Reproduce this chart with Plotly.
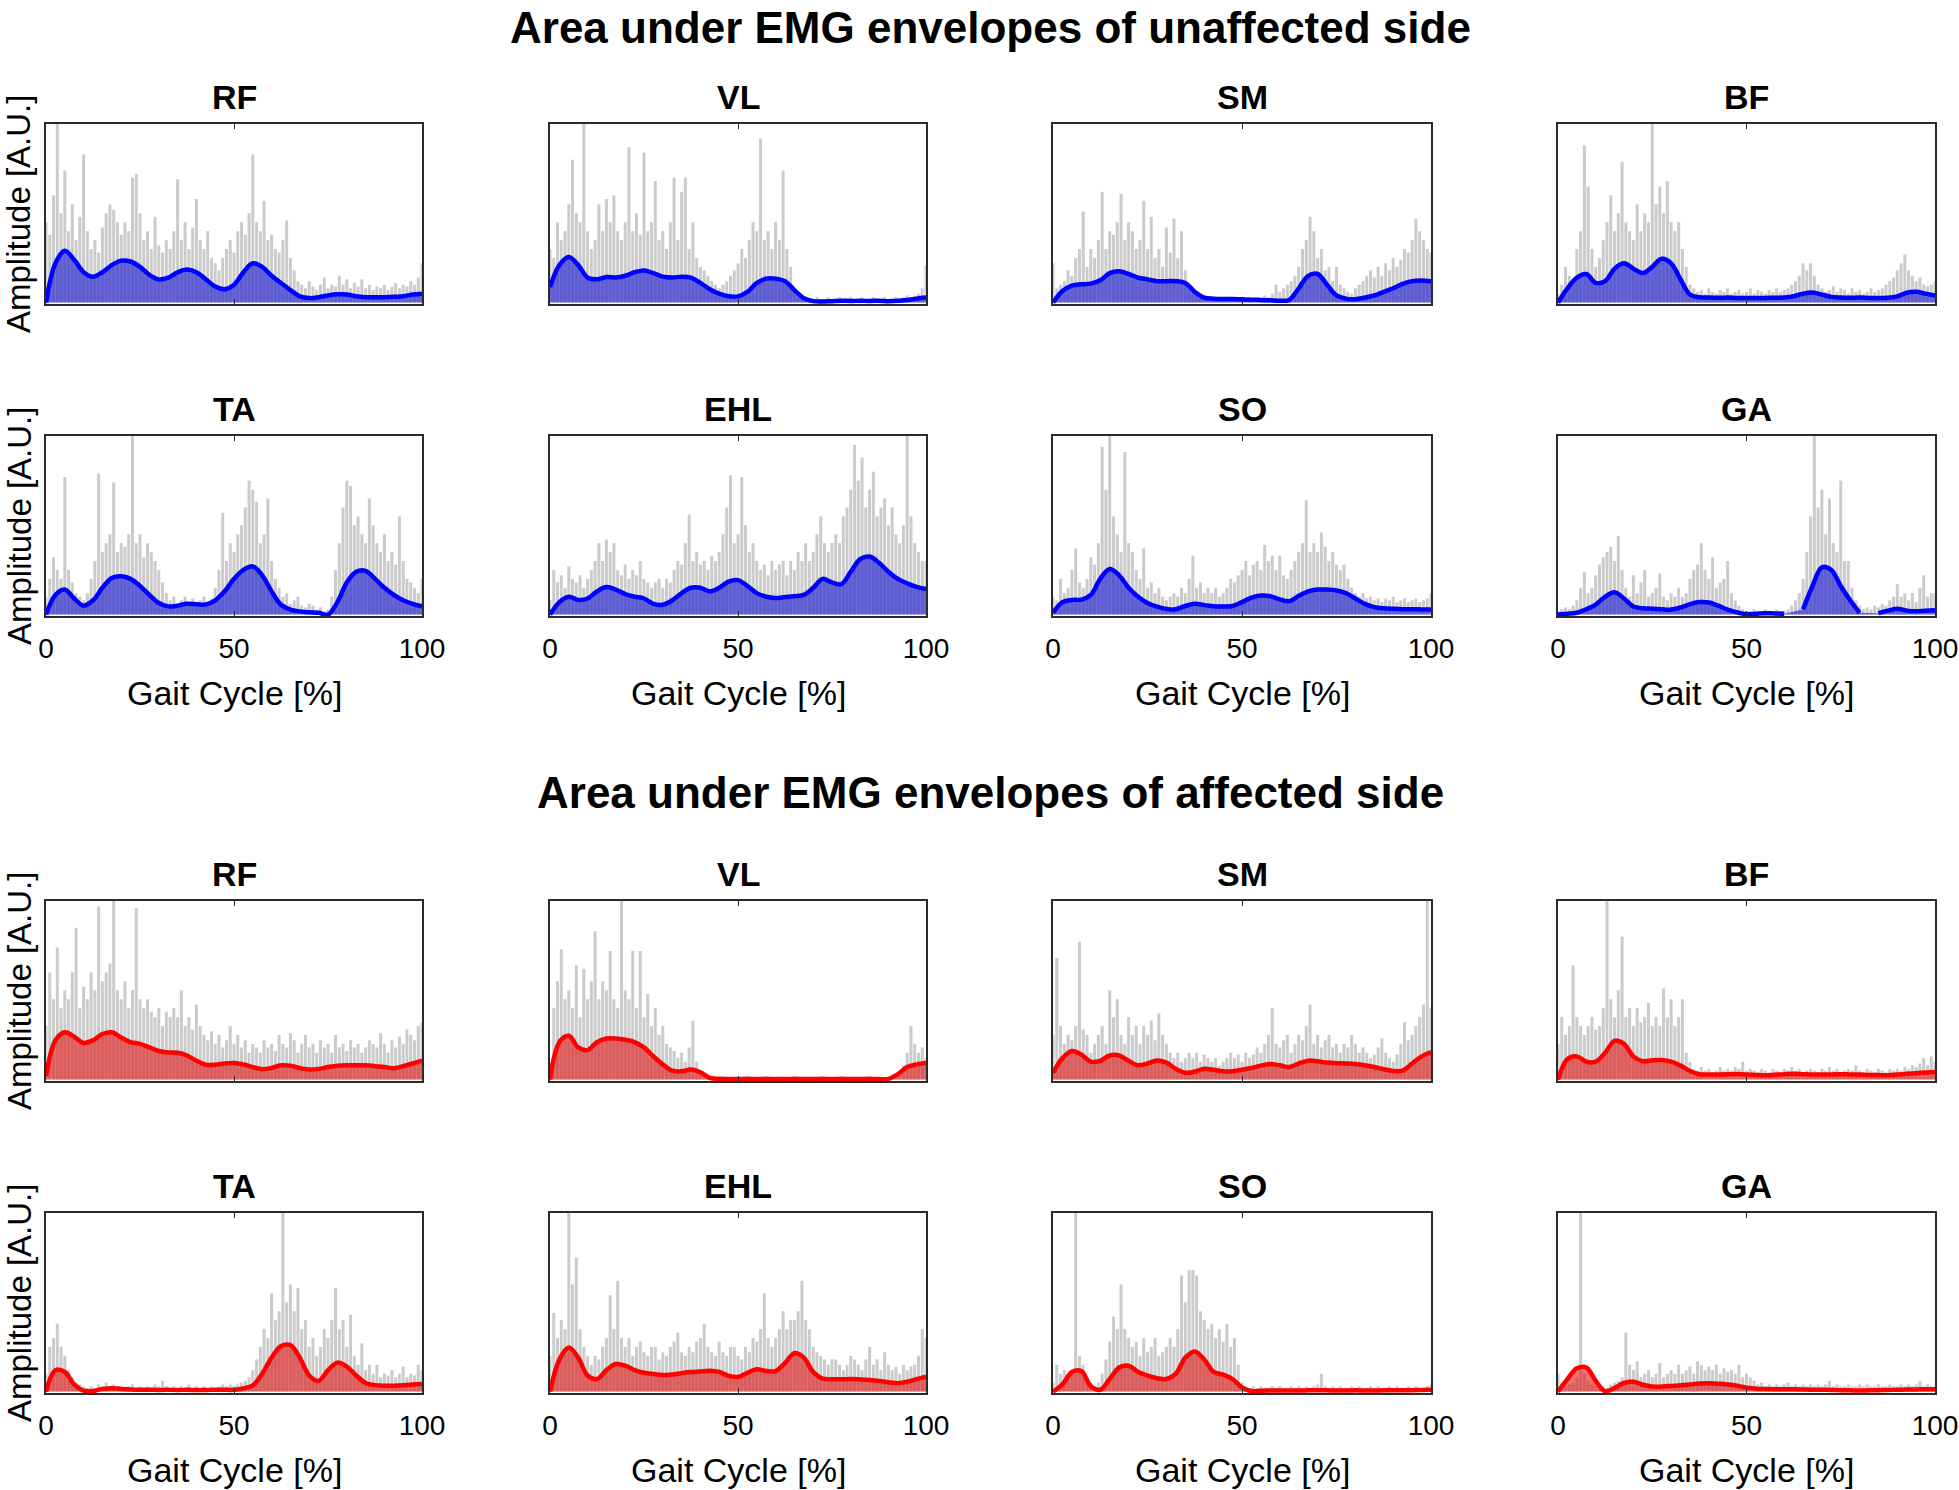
import plotly.graph_objects as go

# muscles in panel order (two rows of four per side)
muscles = ['RF', 'VL', 'SM', 'BF', 'TA', 'EHL', 'SO', 'GA']
section_titles = ['Area under EMG envelopes of unaffected side',
                  'Area under EMG envelopes of affected side']
x_ticks = [0, 50, 100]

# envelope sampled every 2.5 % of gait cycle, raw EMG peaks every 1 %
env_x = [i * 2.5 for i in range(41)]
raw_x = list(range(101))

# ---- unaffected side (values in % of panel height) ----
u_rf_env = [0, 22, 29, 24, 17, 14.5, 17, 21, 23.5, 23, 20, 15.5, 13, 14, 17, 18.5, 17, 13, 9, 7.5, 10, 17, 22, 20, 15, 11,
            7, 3.5, 2.5, 3, 4, 4.6, 4.5, 3.5, 3, 3, 3, 3.2, 3.5, 4.5, 5]
u_rf_raw = [45, 38, 60, 100, 50, 74, 40, 55, 35, 48, 83, 40, 30, 35, 28, 42, 50, 55, 52, 45, 38, 45, 40, 70, 72, 50, 35,
            40, 30, 48, 32, 28, 35, 30, 40, 69, 35, 45, 30, 42, 58, 35, 30, 40, 25, 22, 18, 25, 30, 35, 28, 40, 45, 38,
            50, 83, 45, 40, 57, 35, 38, 30, 28, 35, 46, 25, 18, 12, 10, 8, 12, 9, 7, 10, 14, 8, 10, 9, 15, 10, 13, 8, 11,
            9, 13, 8, 10, 7, 9, 8, 10, 7, 9, 11, 8, 10, 9, 12, 10, 14, 22]

u_vl_env = [8.7, 21, 25.5, 21, 14, 13, 14.3, 14, 15, 17, 18, 16.5, 14.5, 14, 14.5, 14, 11, 7.5, 5, 3.5, 3.5, 6, 11, 13.4,
            13.4, 12, 7, 2.5, 0.8, 0.6, 0.8, 1, 0.9, 1, 0.9, 1, 0.8, 1, 1.5, 2.2, 2.8]
u_vl_raw = [30, 25, 45, 35, 40, 55, 80, 50, 45, 100, 40, 30, 35, 55, 40, 58, 45, 60, 40, 35, 45, 87, 40, 50, 38, 84, 40,
            45, 68, 35, 40, 30, 45, 70, 35, 62, 70, 30, 45, 25, 20, 18, 15, 12, 10, 8, 10, 12, 15, 18, 22, 30, 25, 35,
            45, 40, 92, 35, 40, 30, 45, 35, 74, 30, 20, 8, 3, 2, 3, 2, 2, 3, 2, 2, 3, 2, 2, 3, 2, 2, 3, 2, 2, 3, 2, 2, 3,
            2, 2, 3, 2, 2, 3, 2, 3, 4, 3, 4, 5, 8, 21]

u_sm_env = [0, 6.5, 9.5, 10.2, 10.6, 12.5, 16.5, 17.5, 16, 14, 13, 12, 12, 12, 11, 6, 2.8, 2.2, 2, 2, 1.8, 1.6, 1.5, 1.3,
            1, 1.5, 8, 15, 16, 10, 4, 2.2, 1.9, 2.8, 4, 6, 8, 10.5, 12, 12.3, 12]
u_sm_raw = [22, 8, 10, 12, 18, 15, 25, 30, 51, 20, 30, 25, 35, 62, 30, 40, 38, 45, 61, 35, 45, 40, 30, 35, 57, 30, 48, 25,
            30, 20, 42, 28, 47, 25, 40, 18, 8, 5, 4, 3, 3, 2, 3, 2, 3, 2, 2, 3, 2, 3, 2, 2, 3, 2, 3, 2, 4, 3, 5, 10, 6, 8,
            10, 12, 15, 20, 30, 35, 48, 40, 25, 30, 18, 20, 12, 20, 10, 8, 6, 5, 8, 10, 12, 15, 18, 14, 20, 15, 22, 18,
            25, 20, 24, 30, 28, 35, 47, 40, 35, 30, 28]

u_bf_env = [0, 8, 14, 16, 11, 12, 19, 22, 19, 16.5, 20, 24.5, 22, 13, 4.5, 3, 2.8, 2.7, 2.8, 2.6, 2.6, 2.5, 2.6, 2.7, 2.8,
            3.5, 5, 5.6, 4.5, 3.2, 2.8, 2.7, 2.8, 2.6, 2.5, 2.7, 3.5, 5.5, 6, 5, 4]
u_bf_raw = [5, 10, 20, 15, 12, 30, 40, 88, 65, 30, 20, 25, 35, 45, 60, 40, 50, 79, 45, 40, 35, 55, 40, 50, 45, 100, 55,
            65, 50, 68, 45, 40, 45, 30, 20, 10, 8, 6, 7, 5, 8, 6, 5, 7, 6, 8, 5, 6, 7, 5, 6, 8, 5, 7, 6, 5, 7, 6, 8, 6, 7,
            8, 10, 12, 15, 22, 18, 22, 15, 10, 8, 6, 7, 9, 6, 8, 7, 5, 8, 6, 7, 5, 6, 8, 6, 7, 8, 10, 12, 14, 18, 22, 27,
            18, 15, 12, 14, 10, 9, 10, 12]

u_ta_env = [0, 11, 14, 9, 5, 8, 15, 20.5, 21.4, 20, 16, 11, 6.5, 4.6, 5, 6, 5.8, 5.6, 8, 13, 20, 25, 27, 22, 13, 5.5, 2.8,
            1.8, 1.3, 1, 0, 7, 18, 24, 24.5, 20, 15, 11, 8, 6, 4.6]
u_ta_raw = [10, 20, 32, 25, 20, 77, 25, 18, 12, 10, 8, 12, 20, 30, 79, 35, 40, 45, 74, 35, 40, 38, 45, 100, 40, 45, 32,
            40, 35, 30, 25, 18, 12, 8, 10, 6, 8, 10, 7, 9, 6, 8, 10, 7, 9, 15, 25, 57, 30, 40, 35, 45, 50, 60, 75, 70,
            63, 40, 45, 65, 30, 20, 15, 10, 12, 6, 8, 10, 5, 4, 6, 5, 3, 4, 2, 3, 10, 25, 40, 60, 75, 72, 50, 55, 45, 40,
            65, 50, 40, 35, 45, 30, 35, 28, 55, 30, 20, 18, 15, 12, 20]

u_ehl_env = [0, 7, 10, 8.2, 9, 13, 15.4, 14, 11.5, 10, 9, 6, 5.5, 8, 12, 15, 15, 13, 15, 18.5, 19.3, 16, 12, 10, 9.3, 9.8,
             10.3, 11, 15, 20, 18, 17, 24, 31, 32.5, 29, 24, 20, 17.5, 15.5, 14.3]
u_ehl_raw = [8, 25, 18, 22, 15, 27, 20, 18, 22, 15, 20, 25, 30, 40, 30, 42, 35, 40, 25, 22, 28, 20, 25, 22, 30, 20, 18, 15,
             18, 20, 15, 20, 18, 25, 30, 28, 40, 56, 30, 35, 28, 30, 25, 33, 30, 35, 45, 60, 78, 40, 45, 77, 50, 35, 40,
             30, 25, 28, 22, 30, 25, 28, 30, 22, 30, 25, 35, 30, 40, 30, 35, 45, 55, 40, 35, 40, 45, 40, 55, 60, 70, 95,
             75, 88, 60, 70, 80, 55, 60, 65, 50, 60, 45, 40, 50, 100, 55, 40, 35, 30, 30]

u_so_env = [1, 7, 8.2, 8.4, 11, 20, 25.5, 22, 15, 10, 6.5, 4.5, 3.2, 3, 4.8, 6, 5.3, 4.6, 4.5, 4.8, 7, 9.5, 10.7, 10.3,
            8.5, 7.5, 10.5, 13, 14, 14, 13.5, 12, 9, 6, 4.2, 3.5, 3.2, 3, 3, 2.9, 2.8]
u_so_raw = [10, 8, 20, 12, 15, 25, 37, 18, 15, 20, 32, 28, 40, 94, 70, 100, 55, 45, 35, 91, 40, 35, 25, 20, 37, 15, 18,
            12, 15, 10, 8, 10, 12, 10, 15, 12, 20, 33, 15, 18, 12, 15, 12, 15, 10, 12, 15, 20, 18, 22, 25, 30, 22, 28,
            30, 25, 39, 30, 33, 25, 33, 22, 20, 25, 30, 35, 40, 64, 35, 40, 35, 46, 38, 30, 35, 28, 25, 28, 20, 15, 12,
            10, 12, 9, 10, 8, 9, 7, 9, 8, 10, 7, 8, 9, 7, 8, 9, 7, 8, 9, 12]

u_ga_env = [0, 0.5, 1, 3, 5.6, 10, 12.5, 9, 4.5, 3.5, 3.3, 3, 2.8, 4, 5.8, 7, 6.8, 5, 2.8, 1.2, 0.2, 0.5, 0.8, 0.6, 0.4,
            None, 3, 16, 26.5, 25, 16, 8, 1, None, 0.8, 2.2, 3.2, 2.2, 1.9, 2.2, 2.4]
u_ga_raw = [2, 3, 4, 3, 5, 8, 15, 24, 12, 15, 22, 28, 32, 35, 38, 30, 44, 25, 15, 10, 22, 12, 18, 25, 10, 12, 15, 23, 10,
            8, 12, 10, 15, 10, 12, 20, 25, 28, 40, 25, 20, 32, 15, 18, 20, 30, 12, 8, 5, 3, 2, 2, 3, 2, 2, 3, 2, 2, 3, 2,
            2, 3, 5, 8, 12, 20, 35, 55, 100, 60, 70, 45, 65, 40, 35, 75, 30, 30, 15, 8, 5, 3, 4, 3, 5, 4, 6, 5, 8, 10,
            17, 10, 12, 8, 12, 7, 15, 22, 10, 12, 12]

# ---- affected side ----
a_rf_env = [2, 22, 26.5, 24, 20.5, 22, 25.5, 26.5, 23.5, 21, 20, 18, 16, 15.2, 15, 13.5, 10.5, 8.3, 8.3, 9, 9.3, 8.5, 7,
            5.8, 6.5, 8, 7.8, 6.5, 5.7, 6, 7, 7.8, 8, 8, 8, 7.5, 7, 6.3, 7.5, 9, 10.6]
a_rf_raw = [30, 60, 45, 74, 40, 50, 45, 60, 85, 40, 52, 45, 60, 50, 97, 55, 60, 65, 100, 50, 45, 55, 40, 50, 96, 45, 40,
            45, 38, 35, 40, 30, 38, 35, 40, 35, 50, 30, 35, 28, 42, 30, 25, 22, 27, 20, 25, 18, 22, 30, 20, 25, 18, 22,
            15, 20, 18, 15, 22, 18, 20, 16, 25, 20, 18, 26, 22, 15, 20, 25, 18, 20, 15, 22, 18, 20, 15, 25, 18, 20, 16,
            22, 18, 20, 15, 18, 22, 20, 18, 26, 20, 15, 22, 18, 24, 20, 28, 25, 22, 30, 32]

a_vl_env = [0, 21, 24.5, 18, 16.5, 21, 23, 23, 22.3, 21, 18, 13, 8.5, 5, 4.6, 5.6, 4, 1, 0.4, 0.3, 0.3, 0.4, 0.3, 0.4, 0.3,
            0.3, 0.4, 0.3, 0.3, 0.4, 0.3, 0.4, 0.3, 0.3, 0.4, 0.3, 0.4, 3, 7, 8.5, 9.3]
a_vl_raw = [10, 40, 55, 73, 45, 50, 40, 64, 35, 62, 45, 55, 83, 45, 55, 50, 72, 45, 40, 100, 50, 45, 72, 40, 72, 35, 48,
            30, 40, 25, 30, 20, 18, 16, 12, 15, 10, 18, 33, 10, 5, 3, 2, 1, 1, 1, 1, 1, 1, 1, 1, 1, 1, 1, 1, 1, 1, 1, 1,
            1, 1, 1, 1, 1, 1, 1, 1, 1, 1, 1, 1, 1, 1, 1, 1, 1, 1, 1, 1, 1, 1, 1, 1, 1, 1, 1, 1, 1, 1, 1, 1, 2, 3, 5, 8,
            15, 30, 20, 15, 18, 12]

a_sm_env = [3.7, 12, 16, 14, 10, 10.5, 13.5, 13.5, 10.5, 8, 9, 10.7, 9.5, 6, 3.8, 4.5, 6, 5.5, 4.6, 4.7, 5.5, 6.5, 7.8,
            8.7, 8, 7, 9, 10.6, 10.2, 9.5, 9.2, 9, 8.7, 8, 7, 5.8, 4.8, 5, 9, 13, 15.4]
a_sm_raw = [25, 68, 30, 20, 25, 22, 30, 77, 28, 25, 15, 20, 25, 30, 20, 50, 35, 45, 25, 20, 35, 25, 30, 20, 30, 25, 33,
            22, 37, 25, 20, 15, 12, 15, 10, 12, 15, 12, 15, 10, 14, 12, 10, 12, 8, 10, 12, 15, 12, 14, 10, 15, 12, 14,
            18, 15, 20, 25, 40, 20, 18, 22, 25, 15, 20, 25, 22, 30, 42, 20, 25, 18, 22, 25, 18, 20, 15, 20, 18, 25, 20,
            15, 18, 15, 12, 14, 18, 23, 15, 12, 10, 14, 20, 32, 22, 25, 30, 35, 42, 100, 40]

a_bf_env = [0, 11.5, 13, 10, 10, 15, 21.7, 20, 13, 10.3, 10.8, 10.9, 10, 7.8, 4.8, 3, 2.8, 2.9, 3, 3.1, 2.8, 2.6, 2.4,
            2.7, 3, 3.2, 3, 2.8, 2.8, 2.9, 3, 2.9, 2.8, 2.6, 2.5, 2.4, 2.8, 3.2, 3.6, 4, 4.3]
a_bf_raw = [20, 35, 25, 30, 64, 35, 30, 25, 30, 35, 28, 30, 40, 100, 45, 35, 50, 80, 35, 40, 30, 40, 32, 35, 43, 30, 35,
            30, 51, 35, 45, 30, 35, 45, 15, 10, 6, 5, 7, 5, 6, 4, 5, 7, 5, 6, 5, 7, 6, 10, 5, 6, 5, 4, 6, 5, 4, 6, 5, 4,
            6, 5, 7, 5, 6, 4, 5, 6, 5, 4, 6, 5, 7, 5, 6, 4, 5, 6, 5, 8, 5, 4, 6, 5, 4, 6, 5, 4, 6, 5, 6, 5, 7, 6, 8, 7, 9,
            12, 8, 13, 10]

a_ta_env = [0, 12, 11, 4, 0.5, 0.3, 1.5, 1.9, 1.5, 1.2, 1, 1, 0.9, 1, 0.9, 1, 0.9, 0.9, 1, 1, 1, 1.8, 3.5, 10, 19, 25.5,
            26, 19, 9, 6, 12, 16.2, 14, 9, 4.8, 3.6, 3.3, 3.3, 3.5, 3.9, 4.3]
a_ta_raw = [10, 25, 30, 38, 25, 20, 12, 8, 5, 4, 3, 2, 3, 2, 4, 3, 5, 3, 4, 2, 3, 2, 3, 4, 2, 3, 2, 3, 2, 4, 3, 6, 3, 2,
            3, 2, 3, 2, 4, 2, 3, 2, 3, 2, 3, 2, 3, 4, 3, 4, 3, 4, 5, 6, 8, 12, 18, 25, 35, 30, 55, 40, 45, 100, 50, 60,
            45, 58, 35, 40, 25, 30, 20, 25, 35, 30, 40, 58, 35, 40, 25, 43, 20, 15, 27, 12, 15, 10, 15, 8, 10, 9, 12, 8,
            10, 14, 8, 10, 9, 15, 12]

a_ehl_env = [0, 18, 24.7, 19, 9, 7, 12, 15.4, 14.5, 12, 10.5, 9.8, 9.3, 9.6, 10.3, 10.9, 11.2, 11.7, 11, 8.8, 8.2, 10.5,
             12.5, 11.5, 11.5, 16, 21.5, 19, 11, 7.2, 6.9, 6.9, 7, 6.8, 6.5, 6, 5.2, 4.7, 5.5, 7, 8.4]
a_ehl_raw = [20, 44, 30, 40, 35, 100, 60, 75, 35, 25, 20, 15, 20, 18, 25, 30, 54, 35, 62, 30, 25, 30, 20, 25, 28, 22, 20,
             25, 25, 18, 22, 20, 25, 28, 33, 22, 20, 25, 22, 28, 30, 38, 25, 22, 20, 28, 22, 20, 25, 25, 20, 18, 25, 22,
             30, 28, 35, 55, 30, 25, 30, 35, 45, 35, 40, 40, 45, 62, 40, 35, 25, 22, 20, 18, 15, 18, 18, 15, 12, 15, 20,
             18, 15, 12, 18, 25, 15, 18, 12, 22, 15, 12, 14, 10, 15, 12, 14, 15, 20, 35, 30]

a_so_env = [0, 4, 11, 11.5, 3, 1, 7, 13.5, 14.5, 11, 9, 7.5, 7, 10, 19, 22.5, 18, 11, 9.5, 7, 2.3, 0.3, 0.5, 0.6, 0.6,
            0.6, 0.6, 0.7, 0.8, 0.7, 0.6, 0.6, 0.7, 0.6, 0.6, 0.7, 0.7, 0.8, 0.8, 0.9, 1]
a_so_raw = [5, 15, 10, 12, 8, 10, 100, 20, 15, 8, 5, 3, 5, 10, 18, 28, 42, 35, 60, 35, 30, 25, 28, 20, 30, 22, 25, 30,
            20, 22, 25, 30, 25, 35, 65, 50, 68, 68, 65, 45, 40, 35, 38, 30, 35, 28, 38, 25, 30, 15, 5, 3, 2, 3, 2, 3, 2,
            2, 3, 2, 3, 2, 2, 3, 2, 3, 2, 3, 2, 3, 4, 10, 3, 2, 3, 2, 3, 2, 2, 3, 2, 3, 2, 2, 3, 2, 3, 2, 2, 3, 2, 3, 2,
            2, 3, 2, 3, 2, 2, 3, 4]

a_ga_env = [0, 7, 13, 13.5, 6, 0.2, 2, 4.8, 5.5, 3.8, 2.8, 2.8, 3.1, 3.5, 4, 4.5, 4.6, 4.4, 4, 3.3, 2.2, 1.6, 1.4, 1.3,
            1.3, 1.3, 1.2, 1, 1, 0.9, 0.8, 0.7, 0.6, 0.7, 0.8, 0.9, 1, 1.1, 1.2, 1.3, 1.3]
a_ga_raw = [10, 5, 3, 4, 5, 8, 100, 10, 6, 4, 3, 2, 3, 2, 4, 5, 6, 8, 33, 15, 12, 17, 8, 10, 12, 8, 10, 16, 8, 10, 12,
            10, 15, 10, 12, 14, 10, 17, 15, 12, 14, 12, 15, 10, 13, 11, 12, 10, 15, 8, 10, 8, 6, 4, 5, 3, 4, 3, 4, 3, 4,
            5, 3, 4, 3, 4, 3, 4, 3, 4, 3, 4, 6, 3, 4, 3, 3, 4, 3, 3, 4, 3, 4, 3, 3, 4, 3, 3, 4, 3, 3, 4, 3, 4, 3, 4, 6,
            3, 4, 3, 3]

envs = [u_rf_env, u_vl_env, u_sm_env, u_bf_env, u_ta_env, u_ehl_env, u_so_env, u_ga_env,
        a_rf_env, a_vl_env, a_sm_env, a_bf_env, a_ta_env, a_ehl_env, a_so_env, a_ga_env]
raws = [u_rf_raw, u_vl_raw, u_sm_raw, u_bf_raw, u_ta_raw, u_ehl_raw, u_so_raw, u_ga_raw,
        a_rf_raw, a_vl_raw, a_sm_raw, a_bf_raw, a_ta_raw, a_ehl_raw, a_so_raw, a_ga_raw]

# style
W, H = 1959, 1490
FONT = 'Liberation Sans, Arial, sans-serif'
line_col = ['#0000ff', '#ff0000']
fill_col = ['rgba(20,20,210,0.6)', 'rgba(225,20,20,0.6)']
raw_col = '#cbcbcb'
box_col = '#2b2b2b'

# panel boxes in pixels
col_px = [(46, 422), (550, 926), (1053, 1431), (1558, 1935)]
row_px = [(124, 304), (436, 616), (901, 1081), (1213, 1393)]


def py(v):
    return 1 - v / H


fig = go.Figure()
annotations = []

for i in range(16):
    r, c = divmod(i, 4)
    side = 0 if r < 2 else 1
    k = '' if i == 0 else str(i + 1)
    xa, ya = 'x' + k, 'y' + k

    fig.add_trace(go.Bar(x=raw_x, y=raws[i], width=0.8, marker=dict(color=raw_col, line=dict(width=0)),
                         xaxis=xa, yaxis=ya, hoverinfo='skip'))
    fig.add_trace(go.Scatter(x=env_x, y=envs[i], mode='lines', line=dict(color=line_col[side], width=4.5, shape='spline'),
                             fill='tozeroy', fillcolor=fill_col[side], connectgaps=False, xaxis=xa, yaxis=ya))

    bottom = r in (1, 3)
    x0, x1 = col_px[c]
    y0, y1 = row_px[r]
    # automargin off: the last "100" label is allowed to run off the page edge, as in the original
    fig.layout['xaxis' + k] = dict(domain=[x0 / W, x1 / W], range=[0, 100], anchor=ya, automargin=False,
                                   showline=True, mirror='ticks', linecolor=box_col, linewidth=1.5,
                                   ticks='inside', ticklen=5, tickcolor=box_col, tickvals=x_ticks,
                                   showticklabels=bottom, tickfont=dict(size=28, color='black', family=FONT),
                                   ticklabelstandoff=7, showgrid=False, zeroline=False)
    fig.layout['yaxis' + k] = dict(domain=[py(y1), py(y0)], range=[-0.8, 100], anchor=xa, automargin=False,
                                   showline=True, mirror=True, linecolor=box_col, linewidth=1.5,
                                   showticklabels=False, ticks='', showgrid=False, zeroline=False)

    # panel title
    annotations.append(dict(text='<b>%s</b>' % muscles[(r % 2) * 4 + c], x=(x0 + x1) / 2 / W, y=py(y0 - 27),
                            xref='paper', yref='paper', showarrow=False, xanchor='center', yanchor='middle',
                            font=dict(size=34, family=FONT, color='black')))
    if c == 0:
        annotations.append(dict(text='Amplitude [A.U.]', textangle=-90, x=19 / W, y=py((y0 + y1) / 2),
                                xref='paper', yref='paper', showarrow=False, xanchor='center', yanchor='middle',
                                font=dict(size=33, family=FONT, color='black')))
    if bottom:
        annotations.append(dict(text='Gait Cycle [%]', x=(x0 + x1) / 2 / W, y=py(y1 + 77),
                                xref='paper', yref='paper', showarrow=False, xanchor='center', yanchor='middle',
                                font=dict(size=34, family=FONT, color='black')))

for t, yy in zip(section_titles, [27, 792]):
    annotations.append(dict(text='<b>%s</b>' % t, x=990 / W, y=py(yy), xref='paper', yref='paper',
                            showarrow=False, xanchor='center', yanchor='middle',
                            font=dict(size=44, family=FONT, color='black')))

fig.update_layout(width=W, height=H, margin=dict(l=0, r=0, t=0, b=0), showlegend=False,
                  barmode='overlay', plot_bgcolor='white', paper_bgcolor='white',
                  annotations=annotations, font=dict(family=FONT))

# page body has a default 8px margin; drop it (and any scrollbars) so the figure fills the window
page_js = ("document.body.style.margin='0';"
           "document.body.style.overflow='hidden';"
           "document.documentElement.style.overflow='hidden';")
fig.write_html('out.html', post_script=page_js, config={'displayModeBar': False})
